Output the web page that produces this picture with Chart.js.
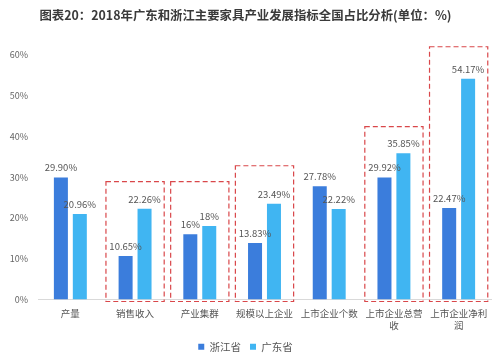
<!DOCTYPE html>
<html>
<head>
<meta charset="utf-8">
<script src="https://cdn.jsdelivr.net/npm/chart.js@4"></script>
<style>
  html, body { margin: 0; padding: 0; background: #fff; }
  #wrap { width: 500px; height: 364px; }
</style>
</head>
<body>
<div id="wrap"><canvas id="bar"></canvas></div>
<script>
// data
const categories = ['产量', '销售收入', '产业集群', '规模以上企业', '上市企业个数', ['上市企业总营', '收'], ['上市企业净利', '润']];
const zhejiang = [29.90, 10.65, 16, 13.83, 27.78, 29.92, 22.47];
const guangdong = [20.96, 22.26, 18, 23.49, 22.22, 35.85, 54.17];
const zhejiangLabels = ['29.90%', '10.65%', '16%', '13.83%', '27.78%', '29.92%', '22.47%'];
const guangdongLabels = ['20.96%', '22.26%', '18%', '23.49%', '22.22%', '35.85%', '54.17%'];
// red dashed highlight boxes: category index and top value (%)
const boxCategories = [1, 2, 3, 5, 6];
const boxTops = [28.9, 28.9, 32.8, 42.4, 62];

const labelFont = '"Noto Sans CJK SC", "Noto Sans", sans-serif';

// draws value labels above bars
const valueLabels = {
  id: 'valueLabels',
  afterDatasetsDraw(chart) {
    const ctx = chart.ctx;
    ctx.save();
    ctx.font = '9.5px ' + labelFont;
    ctx.fillStyle = '#555';
    ctx.textAlign = 'center';
    ctx.textBaseline = 'bottom';
    const texts = [zhejiangLabels, guangdongLabels];
    chart.data.datasets.forEach((ds, i) => {
      chart.getDatasetMeta(i).data.forEach((bar, j) => {
        ctx.fillText(texts[i][j], bar.x, bar.y - 5);
      });
    });
    ctx.restore();
  }
};

// draws the dashed red boxes round some groups
const dashedBoxes = {
  id: 'dashedBoxes',
  afterDraw(chart) {
    const ctx = chart.ctx;
    const x = chart.scales.x;
    const y = chart.scales.y;
    const half = (x.getPixelForValue(1) - x.getPixelForValue(0)) * 0.45;
    ctx.save();
    ctx.strokeStyle = '#d9474a';
    ctx.lineWidth = 1.2;
    ctx.setLineDash([5, 3]);
    boxCategories.forEach((c, i) => {
      const cx = x.getPixelForValue(c);
      const top = y.getPixelForValue(boxTops[i]);
      const bottom = y.getPixelForValue(0) + 2;
      ctx.strokeRect(cx - half, top, half * 2, bottom - top);
    });
    ctx.restore();
  }
};

const ctx = document.getElementById('bar');
new Chart(ctx, {
  type: 'bar',
  data: {
    labels: categories,
    datasets: [{
      label: '浙江省',
      data: zhejiang,
      backgroundColor: '#3b7ddc'
    }, {
      label: '广东省',
      data: guangdong,
      backgroundColor: '#40b5f2'
    }]
  },
  options: {
    responsive: true,
    maintainAspectRatio: false,
    animation: false,
    categoryPercentage: 0.585,
    barPercentage: 0.74,
    layout: { padding: { left: 0, right: 9, top: 0, bottom: 2 } },
    plugins: {
      title: {
        display: true,
        text: '图表20：2018年广东和浙江主要家具产业发展指标全国占比分析(单位：%)',
        color: '#3a3a3a',
        font: { size: 12.4, weight: 'bold', family: labelFont },
        padding: { top: 8, bottom: 32 }
      },
      legend: {
        position: 'bottom',
        labels: {
          boxWidth: 6,
          boxHeight: 6,
          padding: 9,
          color: '#555',
          font: { size: 10.5, family: labelFont }
        }
      },
      tooltip: { enabled: false }
    },
    scales: {
      x: {
        grid: { display: false, drawTicks: false },
        border: { color: '#d9d9d9' },
        afterFit(scale) { scale.height = 33; },
        ticks: {
          color: '#555',
          padding: 8,
          maxRotation: 0,
          autoSkip: false,
          font: { size: 9.5, family: labelFont, lineHeight: 1.25 }
        }
      },
      y: {
        min: 0,
        max: 60,
        grid: { display: false, drawTicks: false },
        border: { display: false },
        afterFit(scale) { scale.width = 38; },
        ticks: {
          stepSize: 10,
          color: '#666',
          padding: 10,
          font: { size: 9, family: labelFont },
          callback: (v) => v + '%'
        }
      }
    }
  },
  plugins: [valueLabels, dashedBoxes]
});
</script>
</body>
</html>
